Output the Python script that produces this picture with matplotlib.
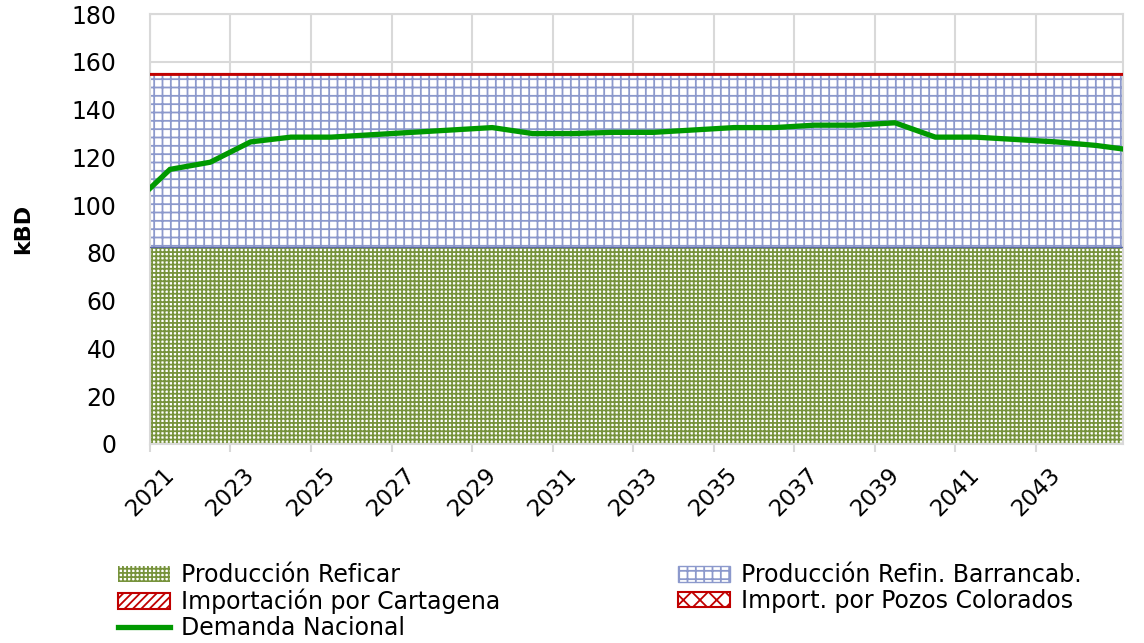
import matplotlib
matplotlib.use("Agg")
import matplotlib.pyplot as plt
import numpy as np
from matplotlib.patches import Patch
from matplotlib.lines import Line2D

# ---- data ----
years_area = [2021.0, 2045.17]
reficar = [82.5, 82.5]
barrancab = [72.5, 72.5]
cartagena = [0.0, 0.0]
pozos = [0.0, 0.0]

years_dem = [2021.0, 2021.5, 2022.5, 2023.5, 2024.5, 2025.5, 2026.5, 2027.5, 2028.5,
             2029.5, 2030.5, 2031.5, 2032.5, 2033.5, 2034.5, 2035.5, 2036.5, 2037.5,
             2038.5, 2039.5, 2040.5, 2041.5, 2042.5, 2043.5, 2044.5, 2045.17]
demanda = [107, 115, 118, 126.5, 128.5, 128.5, 129.5, 130.5, 131.5,
           132.5, 130, 130, 130.5, 130.5, 131.5, 132.5, 132.5, 133.5,
           133.5, 134.5, 128.5, 128.5, 127.5, 126.5, 125, 123.5]

xticks = list(range(2021, 2045, 2))
yticks = list(range(0, 181, 20))

labels = ["Producción Reficar", "Producción Refin. Barrancab.",
          "Importación por Cartagena", "Import. por Pozos Colorados",
          "Demanda Nacional"]

# ---- style ----
plt.rcParams['font.family'] = ['DejaVu Sans']
plt.rcParams['hatch.linewidth'] = 1.3

GREEN = '#77933C'
BLUE = '#8C99CC'
RED = '#C00000'
LINE = '#009900'
GRID = '#D9D9D9'

fig = plt.figure(figsize=(11.44, 6.43), dpi=100)
ax = fig.add_axes([0.131, 0.3095, 0.851, 0.6685])

x = np.array(years_area)
b0 = np.zeros(2)
b1 = b0 + np.array(reficar)
b2 = b1 + np.array(barrancab)
b3 = b2 + np.array(cartagena)
b4 = b3 + np.array(pozos)

ax.fill_between(x, b0, b1, facecolor='white', edgecolor=GREEN, hatch='++++',
                linewidth=0, zorder=2)
ax.fill_between(x, b1, b2, facecolor='white', edgecolor=BLUE, hatch='++',
                linewidth=0, zorder=2)
ax.plot(x, b1, color='#5A68A8', lw=1.0, zorder=3)
ax.fill_between(x, b2, b3, facecolor='white', edgecolor=RED, hatch='////',
                linewidth=1.5, zorder=3)
ax.fill_between(x, b3, b4, facecolor='white', edgecolor=RED, hatch='xx',
                linewidth=1.5, zorder=3)
ax.plot(x, b4, color=RED, lw=2.0, zorder=4)

ax.plot(years_dem, demanda, color=LINE, lw=3.8, zorder=5, solid_joinstyle='miter')

ax.set_xlim(2021, 2045.17)
ax.set_ylim(0, 180)
ax.set_xticks(xticks)
ax.set_xticklabels([str(t) for t in xticks], rotation=45, ha='center', va='top',
                   fontsize=16.5)
ax.set_yticks(yticks)
ax.set_yticklabels([str(t) for t in yticks], fontsize=17)
ax.tick_params(axis='y', length=0, pad=24)
ax.tick_params(axis='x', length=6, color=GRID, width=1.5, pad=8)
ax.grid(True, color=GRID, lw=1.5, zorder=0)
ax.set_axisbelow(True)
for s in ax.spines.values():
    s.set_color(GRID)
    s.set_linewidth(1.5)

ax.set_ylabel('kBD', fontsize=16, fontweight='bold', labelpad=28)

handles = [
    Patch(facecolor='white', edgecolor=GREEN, hatch='++++', lw=0),
    Patch(facecolor='white', edgecolor=RED, hatch='////', lw=1.5),
    Line2D([0], [0], color=LINE, lw=3.8),
    Patch(facecolor='white', edgecolor=BLUE, hatch='++', lw=1.0),
    Patch(facecolor='white', edgecolor=RED, hatch='xx', lw=1.5),
]
hlabels = [labels[0], labels[2], labels[4], labels[1], labels[3]]
fig.legend(handles, hlabels, loc='upper left', bbox_to_anchor=(0.095, 1 - 554 / 643),
           ncol=2, frameon=False, fontsize=17, handlelength=2.2, handleheight=0.65,
           handletextpad=0.45, columnspacing=7.55, labelspacing=0.06, borderaxespad=0)

fig.savefig('out.png', dpi=100)
